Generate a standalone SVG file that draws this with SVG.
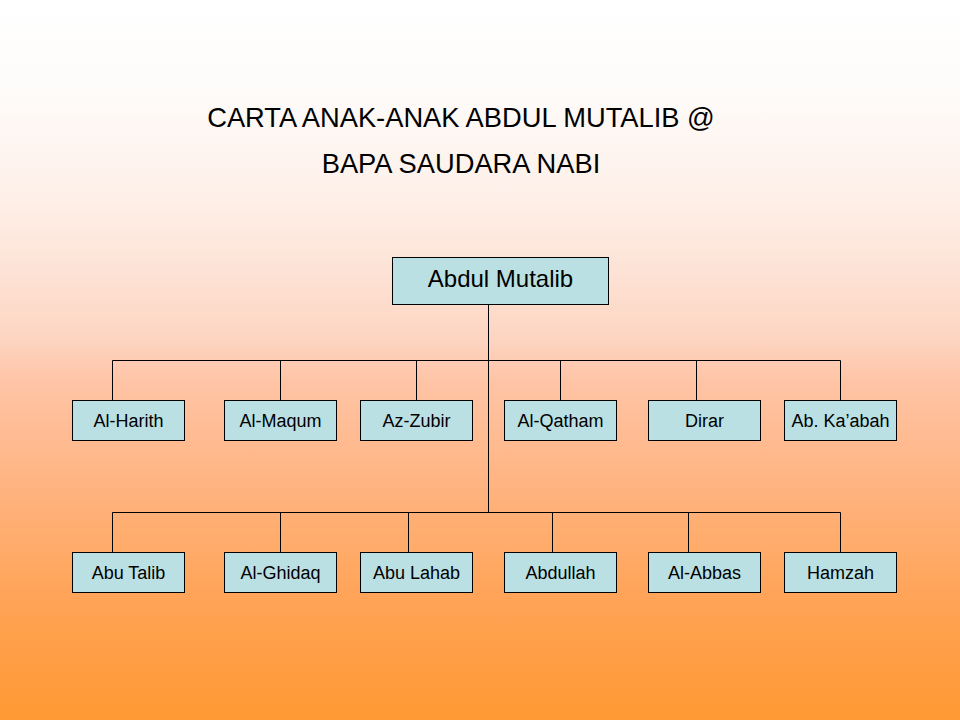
<svg xmlns="http://www.w3.org/2000/svg" width="960" height="720" viewBox="0 0 960 720">
<defs>
<linearGradient id="bg" x1="0" y1="0" x2="0" y2="1">
<stop offset="0" stop-color="#FFFFFF"/>
<stop offset="0.12" stop-color="#FEFCFA"/>
<stop offset="0.27" stop-color="#FEF0E9"/>
<stop offset="0.38" stop-color="#FDE2D5"/>
<stop offset="0.47" stop-color="#FDD5C2"/>
<stop offset="0.53" stop-color="#FFC4A6"/>
<stop offset="0.7" stop-color="#FFB17A"/>
<stop offset="0.86" stop-color="#FFA150"/>
<stop offset="1" stop-color="#FF9933"/>
</linearGradient>
<style>
.box{fill:#BBE0E3;stroke:#000;stroke-width:1}
.t{font-family:"Liberation Sans",Arial,sans-serif;fill:#000;text-anchor:middle}
.n{font-size:18px}
.r{font-size:24px}
.h{font-size:27.3px}
.c{stroke:#000;stroke-width:1;fill:none}
</style>
</defs>
<rect x="0" y="0" width="960" height="720" fill="url(#bg)"/>
<g id="title">
<text class="t h" x="461" y="127">CARTA ANAK-ANAK ABDUL MUTALIB @</text>
<text class="t h" x="461" y="173">BAPA SAUDARA NABI</text>
</g>
<g id="connectors">
<path class="c" d="M488.5 304V512.5"/>
<path class="c" d="M112.5 400.5V360.5H840.5V400.5M280.5 360.5V400.5M416.5 360.5V400.5M560.5 360.5V400.5M696.5 360.5V400.5"/>
<path class="c" d="M112.5 552.5V512.5H840.5V552.5M280.5 512.5V552.5M408.5 512.5V552.5M552.5 512.5V552.5M688.5 512.5V552.5"/>
</g>
<g id="abdul-mutalib"><rect class="box" x="392.5" y="257.5" width="216" height="47"/><text class="t r" x="500.5" y="287">Abdul Mutalib</text></g>
<g id="al-harith"><rect class="box" x="72.5" y="400.5" width="112" height="40"/><text class="t n" x="128.5" y="427">Al-Harith</text></g>
<g id="al-maqum"><rect class="box" x="224.5" y="400.5" width="112" height="40"/><text class="t n" x="280.5" y="427">Al-Maqum</text></g>
<g id="az-zubir"><rect class="box" x="360.5" y="400.5" width="112" height="40"/><text class="t n" x="416.5" y="427">Az-Zubir</text></g>
<g id="al-qatham"><rect class="box" x="504.5" y="400.5" width="112" height="40"/><text class="t n" x="560.5" y="427">Al-Qatham</text></g>
<g id="dirar"><rect class="box" x="648.5" y="400.5" width="112" height="40"/><text class="t n" x="704.5" y="427">Dirar</text></g>
<g id="ab-kaabah"><rect class="box" x="784.5" y="400.5" width="112" height="40"/><text class="t n" x="840.5" y="427">Ab. Ka’abah</text></g>
<g id="abu-talib"><rect class="box" x="72.5" y="552.5" width="112" height="40"/><text class="t n" x="128.5" y="579">Abu Talib</text></g>
<g id="al-ghidaq"><rect class="box" x="224.5" y="552.5" width="112" height="40"/><text class="t n" x="280.5" y="579">Al-Ghidaq</text></g>
<g id="abu-lahab"><rect class="box" x="360.5" y="552.5" width="112" height="40"/><text class="t n" x="416.5" y="579">Abu Lahab</text></g>
<g id="abdullah"><rect class="box" x="504.5" y="552.5" width="112" height="40"/><text class="t n" x="560.5" y="579">Abdullah</text></g>
<g id="al-abbas"><rect class="box" x="648.5" y="552.5" width="112" height="40"/><text class="t n" x="704.5" y="579">Al-Abbas</text></g>
<g id="hamzah"><rect class="box" x="784.5" y="552.5" width="112" height="40"/><text class="t n" x="840.5" y="579">Hamzah</text></g>
</svg>
